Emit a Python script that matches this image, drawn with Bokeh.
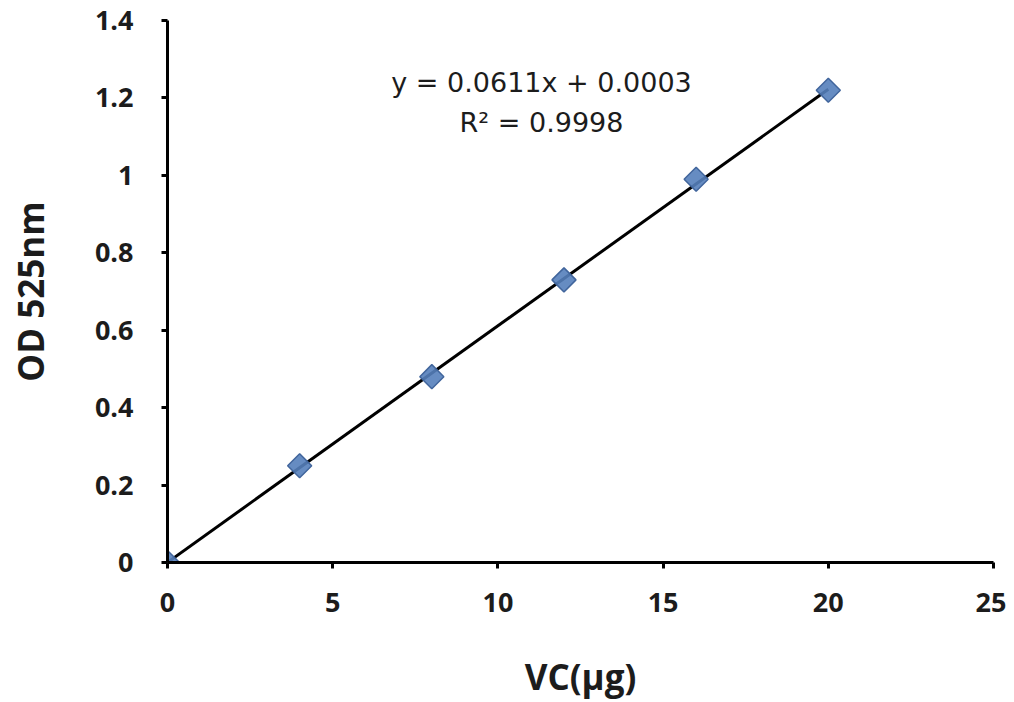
import math
from bokeh.plotting import figure
from bokeh.models import Range1d, FixedTicker, Label
from bokeh.embed import file_html
from bokeh.resources import INLINE

# Data
vc_ug = [0, 4, 8, 12, 16, 20]
od_525 = [0.0, 0.25, 0.48, 0.73, 0.99, 1.22]
slope = 0.0611
intercept = 0.0003
x_ticks = [0, 5, 10, 15, 20, 25]
x_tick_labels = ["0", "5", "10", "15", "20", "25"]
y_ticks = [0, 0.2, 0.4, 0.6, 0.8, 1.0, 1.2, 1.4]
y_tick_labels = ["0", "0.2", "0.4", "0.6", "0.8", "1", "1.2", "1.4"]
equation_text = "y = 0.0611x + 0.0003"
r2_text = "R\u00b2 = 0.9998"
x_title = "VC(\u03bcg)"
y_title = "OD 525nm"

FONT = "Open Sans"
EQ_FONT = "DejaVu Sans"
TXT = "#1c1c1c"

p = figure(width=1006, height=702, output_backend="svg", toolbar_location=None,
           x_range=Range1d(0, 25), y_range=Range1d(0, 1.4),
           min_border_left=167, min_border_right=13, min_border_top=20,
           min_border_bottom=140)
p.outline_line_color = None
p.xgrid.visible = False
p.ygrid.visible = False
p.background_fill_color = "white"
p.border_fill_color = "white"

for ax, ticks, labels in ((p.xaxis[0], x_ticks, x_tick_labels),
                          (p.yaxis[0], y_ticks, y_tick_labels)):
    ax.ticker = FixedTicker(ticks=ticks)
    ax.major_label_overrides = {t: l for t, l in zip(ticks, labels)}
    ax.minor_tick_line_color = None
    ax.axis_line_width = 3
    ax.axis_line_color = "black"
    ax.major_tick_line_width = 3
    ax.major_tick_line_color = "black"
    ax.major_tick_in = 0
    ax.major_tick_out = 6
    ax.major_label_text_font = FONT
    ax.major_label_text_font_size = "27px"
    ax.major_label_text_font_style = "bold"
    ax.major_label_text_color = TXT
    ax.axis_label_text_font = FONT
    ax.axis_label_text_font_style = "bold"
    ax.axis_label_text_color = TXT

p.xaxis.axis_label = x_title
p.yaxis.axis_label = y_title
p.xaxis.axis_label_text_font_size = "35px"
p.yaxis.axis_label_text_font_size = "35px"
p.yaxis.major_label_standoff = 28
p.xaxis.major_label_standoff = 24
p.yaxis.axis_label_standoff = 38
p.xaxis.axis_label_standoff = 38

# Trendline
trend_x = [min(vc_ug), max(vc_ug)]
trend_y = [slope * x + intercept for x in trend_x]
p.line(trend_x, trend_y, line_color="black", line_width=3)

# Points
p.scatter(vc_ug, od_525, marker="square", angle=math.pi / 4, size=17,
          fill_color="#5580bb", line_color="#41659c", line_width=1.5,
          fill_alpha=0.9)

# Equation labels
p.add_layout(Label(x=11.32, y=1.24, text=equation_text, text_align="center",
                   text_baseline="middle", text_font=EQ_FONT, text_font_size="27px",
                   text_color=TXT))
p.add_layout(Label(x=11.32, y=1.137, text=r2_text, text_align="center",
                   text_baseline="middle", text_font=EQ_FONT, text_font_size="27px",
                   text_color=TXT))

open("out.html", "w").write(file_html(p, INLINE))
